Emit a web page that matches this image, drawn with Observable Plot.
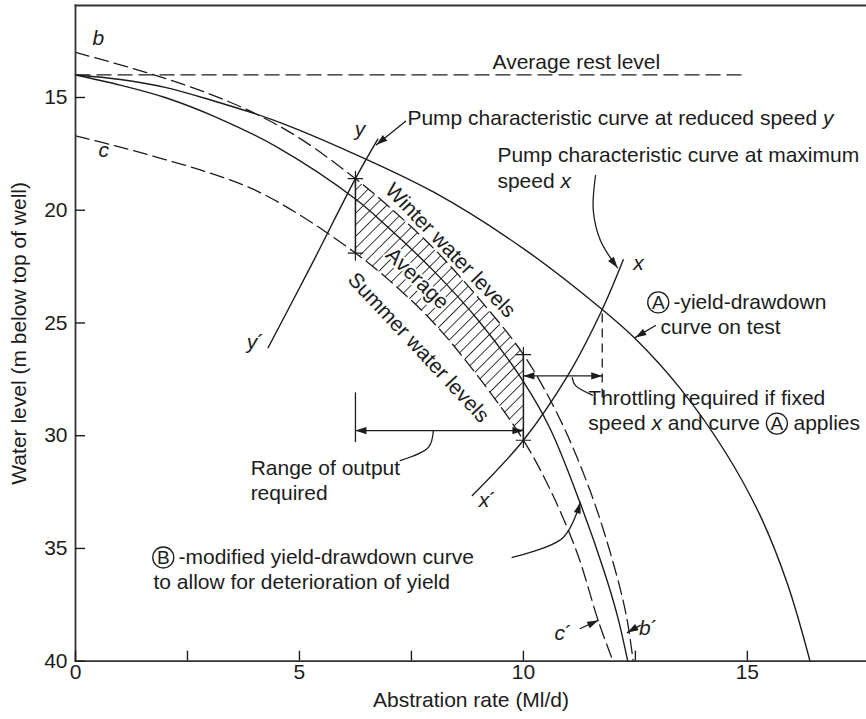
<!DOCTYPE html>
<html>
<head>
<meta charset="utf-8">
<script src="https://cdn.jsdelivr.net/npm/d3@7"></script>
<script src="https://cdn.jsdelivr.net/npm/@observablehq/plot@0.6"></script>
<style>
  html, body { margin: 0; padding: 0; background: #fff; }
  #chart svg { display: block; }
</style>
</head>
<body>
<div id="chart"></div>
<script>
// ---------- axes ----------
const xTicks = [0, 2.5, 5, 7.5, 10, 12.5, 15];
const yTicks = [15, 20, 25, 30, 35, 40];
const xDomain = [0, 17.66];
const yDomain = [10.92, 40];
const xTitle = "Abstration rate (Ml/d)";
const yTitle = "Water level (m below top of well)";

// ---------- levels and curves: [abstraction Ml/d, water level m] ----------
const restLevel = 14;
const restExtent = [0, 15];
const curveA = [[0,14],[1,14.2],[2,14.55],[3,15.1],[4.42,16.0],[6,17.3],[8,19.2],[10,21.7],[11.76,24.4],[12.5,25.7],[13.5,27.9],[14.5,30.7],[15.3,33.6],[15.9,36.6],[16.4,40]];
const curveB = [[0,14],[1,14.45],[2,15.0],[3.17,15.9],[4.5,17.2],[6.25,19.5],[7,20.8],[8,22.7],[9,24.9],[10,27.6],[10.6,29.7],[11.27,33],[11.8,36],[12.1,38],[12.33,40]];
const curveWinter = [[0,13],[1,13.55],[2,14.15],[3,14.85],[4,15.7],[5,16.8],[6.25,18.6],[7,19.85],[8,21.7],[9,23.9],[10,26.4],[10.8,29.2],[11.5,32.5],[12.0,35.6],[12.3,38],[12.45,40]];
const curveSummer = [[0,16.7],[1,17.2],[2,17.75],[3,18.35],[4,19.1],[5,20.2],[6.25,21.9],[7,23.1],[8,25.0],[9,27.4],[10,30.2],[10.6,32.4],[11.2,35.2],[11.67,38.2],[12.0,40]];
const pumpY = [[6.75,16.85],[6.25,18.6],[5.3,22.3],[4.3,26.1]];
const pumpX = [[8.86,32.65],[10,30.2],[11,27.3],[11.76,24.4],[12.23,22.2]];
const outputRange = [6.25, 10];
const bandX = [6.25, 7, 8, 9, 10];
const throttleX = 11.76;
const throttleArrowY = 27.35;
const throttleDash = [24.6, 28.6];
const rangeArrowY = 29.77;
const rangeTick = [28.1, 30.3];

// ---------- annotation text ----------
const labelsStart = [
  {x: 9.31, y: 13.45, text: "Average rest level"},
  {x: 7.41, y: 15.93, text: "Pump characteristic curve at reduced speed *y*"},
  {x: 9.42, y: 17.57, text: "Pump characteristic curve at maximum"},
  {x: 9.42, y: 18.73, text: "speed *x*"},
  {x: 13.35, y: 24.09, text: "-yield-drawdown"},
  {x: 13.06, y: 25.2, text: "curve on test"},
  {x: 11.45, y: 28.35, text: "Throttling required if fixed"},
  {x: 11.45, y: 29.46, text: "speed *x* and curve"},
  {x: 16.03, y: 29.46, text: "applies"},
  {x: 3.91, y: 31.45, text: "Range of output"},
  {x: 3.91, y: 32.56, text: "required"},
  {x: 2.3, y: 35.4, text: "-modified yield-drawdown curve"},
  {x: 1.74, y: 36.5, text: "to allow for deterioration of yield"}
];
const labelsMid = [
  {x: 0.51, y: 12.38, text: "*b*"},
  {x: 0.63, y: 17.35, text: "*c*"},
  {x: 6.35, y: 16.4, text: "*y*"},
  {x: 4.02, y: 25.86, text: "*y*´"},
  {x: 12.57, y: 22.36, text: "*x*"},
  {x: 9.2, y: 32.87, text: "*x*´"},
  {x: 12.79, y: 38.55, text: "*b*´"},
  {x: 10.89, y: 38.77, text: "*c*´"}
];
const labelsRotated = [
  {x: 8.37, y: 21.78, text: "Winter water levels", angle: 46},
  {x: 7.63, y: 23.03, text: "Average", angle: 44},
  {x: 7.66, y: 26.09, text: "Summer water levels", angle: 47}
];
const circled = [
  {x: 13.01, y: 24.09, text: "A"},
  {x: 15.66, y: 29.46, text: "A"},
  {x: 1.96, y: 35.4, text: "B"}
];
const leadersHead = [
  {id: "y", pts: [[7.37,16.05],[6.72,17.1]]},
  {id: "x", pts: [[11.61,18.46],[11.56,20.01],[11.72,21.34],[12.1,22.55]]},
  {id: "A", pts: [[12.95,25.11],[12.5,25.64]]},
  {id: "B", pts: [[9.75,35.4],[10.89,34.51],[11.27,32.96]]},
  {id: "c", pts: [[11.27,38.55],[11.67,38.19]]},
  {id: "b", pts: [[12.61,38.41],[12.32,38.73]]}
];
const leadersPlain = [
  {id: "thr", pts: [[11.54,28.2],[11.16,27.77],[11.09,27.42]]},
  {id: "range", pts: [[7.25,31.1],[7.88,30.52],[7.99,29.77]]}
];

// ---------- helpers ----------
const toRows = (pts) => pts.map(([x, y]) => ({x, y}));
const lookup = (curve, x) => curve.find(p => p[0] === x)[1];
const band = bandX.map(x => ({x, b: lookup(curveWinter, x), c: lookup(curveSummer, x)}));
const bandEdges = outputRange.map(x => ({x, y1: lookup(curveWinter, x), y2: lookup(curveSummer, x)}));
const corners = bandEdges.flatMap(d => [{x: d.x, y: d.y1}, {x: d.x, y: d.y2}]);
const flat = (arr) => arr.flatMap(d => d.pts.map(([x, y]) => ({id: d.id, x, y})));

const ink = "#1c1c1c";
const font = "'Liberation Sans', Arial, Helvetica, sans-serif";

const svg = Plot.plot({
  width: 866,
  height: 719,
  marginLeft: 75,
  marginRight: 0,
  marginTop: 5,
  marginBottom: 58.3,
  x: {domain: xDomain},
  y: {domain: yDomain, reverse: true},
  style: {fontFamily: font, fontSize: "21px", color: ink, background: "white", overflow: "visible"},
  marks: [
    // hatched operating band
    Plot.areaY(band, {x: "x", y1: "b", y2: "c", curve: "catmull-rom", fill: "url(#hatch)"}),
    Plot.ruleX(bandEdges, {x: "x", y1: "y1", y2: "y2", stroke: ink, strokeWidth: 1.5}),
    Plot.dot(corners, {x: "x", y: "y", symbol: "plus", r: 5, stroke: ink, strokeWidth: 1.2}),

    // rest level
    Plot.link([{x1: restExtent[0], x2: restExtent[1], y: restLevel}], {x1: "x1", x2: "x2", y1: "y", y2: "y", stroke: ink, strokeWidth: 1.3, strokeDasharray: "15,6"}),

    // yield-drawdown curves
    Plot.line(toRows(curveA), {x: "x", y: "y", curve: "catmull-rom", stroke: ink, strokeWidth: 1.4}),
    Plot.line(toRows(curveB), {x: "x", y: "y", curve: "catmull-rom", stroke: ink, strokeWidth: 1.4}),
    Plot.line(toRows(curveWinter), {x: "x", y: "y", curve: "catmull-rom", stroke: ink, strokeWidth: 1.3, strokeDasharray: "14,6"}),
    Plot.line(toRows(curveSummer), {x: "x", y: "y", curve: "catmull-rom", stroke: ink, strokeWidth: 1.3, strokeDasharray: "14,6"}),

    // pump characteristics
    Plot.line(toRows(pumpY), {x: "x", y: "y", curve: "catmull-rom", stroke: ink, strokeWidth: 1.4}),
    Plot.line(toRows(pumpX), {x: "x", y: "y", curve: "catmull-rom", stroke: ink, strokeWidth: 1.4}),

    // dimension lines
    Plot.ruleX([throttleX], {y1: throttleDash[0], y2: throttleDash[1], stroke: ink, strokeWidth: 1.3, strokeDasharray: "9,6"}),
    Plot.ruleX([outputRange[0]], {y1: rangeTick[0], y2: rangeTick[1], stroke: ink, strokeWidth: 1.3}),
    Plot.link([{x1: outputRange[0], x2: outputRange[1], y: rangeArrowY}, {x1: outputRange[1], x2: throttleX, y: throttleArrowY}],
      {x1: "x1", x2: "x2", y1: "y", y2: "y", stroke: ink, strokeWidth: 1.3, className: "dbl-arrow"}),

    // leaders
    Plot.line(flat(leadersHead), {x: "x", y: "y", z: "id", curve: "catmull-rom", stroke: ink, strokeWidth: 1.3, className: "lead-head"}),
    Plot.line(flat(leadersPlain), {x: "x", y: "y", z: "id", curve: "catmull-rom", stroke: ink, strokeWidth: 1.3}),

    // circled letters
    Plot.dot(circled, {x: "x", y: "y", r: 10.5, stroke: ink, strokeWidth: 1.3, fill: "white"}),
    Plot.text(circled, {x: "x", y: "y", text: "text", fontSize: 19, fill: ink, dy: 0.5}),

    // text labels
    Plot.text(labelsRotated, {x: "x", y: "y", text: "text", rotate: "angle", fill: ink, stroke: "white", strokeWidth: 4}),
    Plot.text(labelsStart, {x: "x", y: "y", text: "text", textAnchor: "start", fill: ink}),
    Plot.text(labelsMid, {x: "x", y: "y", text: "text", fill: ink}),

    // axes
    Plot.frame({anchor: "top", stroke: "#333", strokeWidth: 1.8}),
    Plot.frame({anchor: "left", stroke: "#333", strokeWidth: 1.8}),
    Plot.frame({anchor: "bottom", stroke: "#333", strokeWidth: 1.8}),
    Plot.axisX(xTicks, {anchor: "bottom", tickSize: -10, tickPadding: 13, strokeWidth: 1.4,
      tickFormat: d => (d % 5 === 0 ? String(d) : ""), label: null, fontSize: 21}),
    Plot.axisY(yTicks, {anchor: "left", tickSize: -10, tickPadding: 18, strokeWidth: 1.4, label: null, fontSize: 21}),
    Plot.text([xTitle], {frameAnchor: "bottom", textAnchor: "middle", dy: 46, fill: ink}),
    Plot.text([yTitle], {frameAnchor: "left", textAnchor: "middle", dx: -56, rotate: -90, fill: ink})
  ]
});

// ---------- defs: hatch pattern and filled arrowheads ----------
const ns = "http://www.w3.org/2000/svg";
const defs = document.createElementNS(ns, "defs");
defs.innerHTML =
  `<pattern id="hatch" patternUnits="userSpaceOnUse" width="8.2" height="8.2" patternTransform="rotate(45)">
     <line x1="0" y1="0" x2="0" y2="8.2" stroke="${ink}" stroke-width="1.7"/>
   </pattern>
   <marker id="ahead" viewBox="-11 -5 12 10" markerUnits="userSpaceOnUse" markerWidth="12" markerHeight="10" refX="0" refY="0" orient="auto-start-reverse" overflow="visible">
     <path d="M-11,-3.6L0,0L-11,3.6Z" fill="${ink}"/>
   </marker>`;
svg.insertBefore(defs, svg.firstChild);
svg.querySelectorAll(".lead-head path").forEach(p => p.setAttribute("marker-end", "url(#ahead)"));
svg.querySelectorAll(".dbl-arrow path, .dbl-arrow line").forEach(p => {
  p.setAttribute("marker-start", "url(#ahead)");
  p.setAttribute("marker-end", "url(#ahead)");
});

// ---------- italic segments marked with *...* ----------
svg.querySelectorAll("text, tspan").forEach(el => {
  if (el.childNodes.length === 1 && el.firstChild.nodeType === 3 && el.textContent.includes("*")) {
    const parts = el.textContent.split("*");
    el.textContent = "";
    parts.forEach((p, i) => {
      if (!p) return;
      const ts = document.createElementNS(ns, "tspan");
      ts.textContent = p;
      if (i % 2 === 1) ts.setAttribute("font-style", "italic");
      el.appendChild(ts);
    });
  }
});

document.getElementById("chart").appendChild(svg);
</script>
</body>
</html>
